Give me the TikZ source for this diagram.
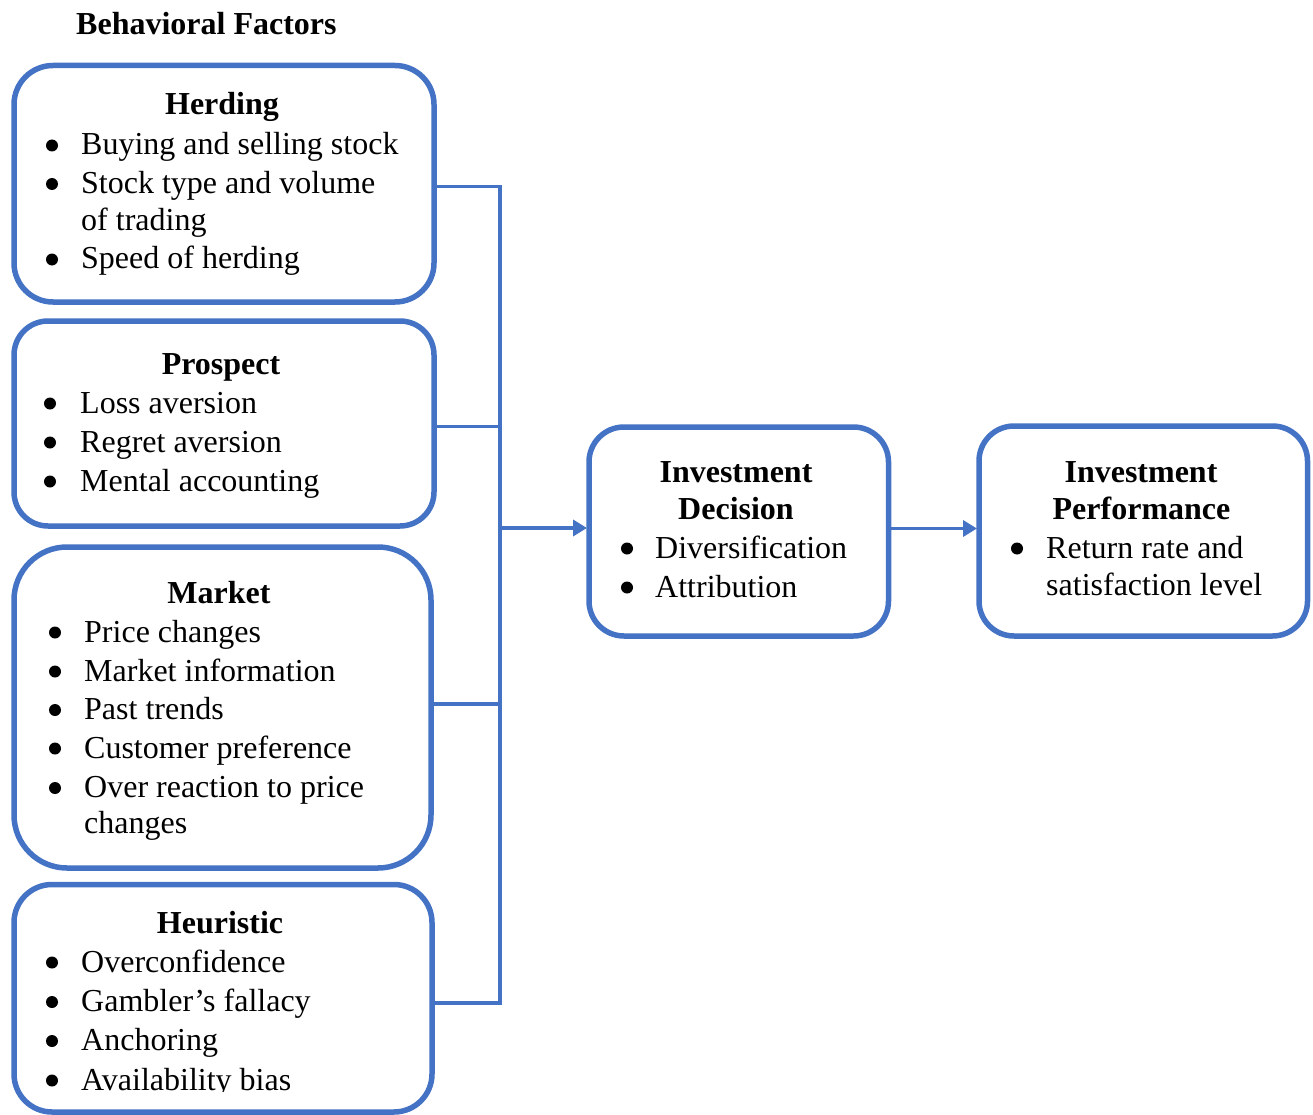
\documentclass[tikz,border=0pt]{standalone}
\usepackage{fontspec}
\setmainfont{Liberation Serif}
\usetikzlibrary{arrows.meta}
\definecolor{wblue}{HTML}{4472C4}
\tikzset{
  fbox/.style={draw=wblue, line width=5.5pt, rectangle, inner sep=0pt, outer sep=0pt},
  conn/.style={draw=wblue, line width=3.5pt},
  arr/.style={conn, -{Triangle[length=14pt,width=16pt]}, shorten >=2pt},
  txt/.style={inner sep=0pt, font=\fontsize{32pt}{38pt}\selectfont},
  head/.style={inner sep=0pt, font=\fontsize{32pt}{38pt}\selectfont\bfseries},
  dot/.style={circle, fill=black, minimum size=12pt, inner sep=0pt},
}
\newcommand{\bitem}[5]{%
  \node[dot] (#1d) at (#2,#4-9.5) {};
  \node[txt, anchor=base west] (#1) at (#3,#4) {#5};}
\begin{document}
\begin{tikzpicture}[x=1pt,y=-1pt]
\useasboundingbox (0,0) rectangle (1313,1115);

% title
\node[head, anchor=base west] (title) at (76,35) {Behavioral Factors};

% boxes
\node[fbox, rounded corners=39pt, minimum width=420pt, minimum height=236.5pt] (herding) at (224,183.75) {};
\node[fbox, rounded corners=34pt, minimum width=420pt, minimum height=205pt] (prospect) at (224,423.5) {};
\node[fbox, rounded corners=53pt, minimum width=417pt, minimum height=321pt] (market) at (222.5,707.5) {};
\node[fbox, rounded corners=38pt, minimum width=418pt, minimum height=227.5pt] (heuristic) at (223,998.25) {};
\node[fbox, rounded corners=35pt, minimum width=299.5pt, minimum height=209pt] (decision) at (738.75,531.5) {};
\node[fbox, rounded corners=35pt, minimum width=328.5pt, minimum height=210pt] (performance) at (1143.25,531) {};

% Herding text
\node[head, anchor=base] (hh) at (222,115) {Herding};
\bitem{h1}{52}{81}{155}{Buying and selling stock}
\bitem{h2}{52}{81}{193.5}{Stock type and volume}
\node[txt, anchor=base west] (h2b) at (81,231) {of trading};
\bitem{h3}{52}{81}{269}{Speed of herding}

% Prospect text
\node[head, anchor=base] (ph) at (221,374) {Prospect};
\bitem{p1}{50}{80}{413}{Loss aversion}
\bitem{p2}{50}{80}{452}{Regret aversion}
\bitem{p3}{50}{80}{491}{Mental accounting}

% Market text
\node[head, anchor=base] (mh) at (219,603) {Market};
\bitem{m1}{55}{84}{642}{Price changes}
\bitem{m2}{55}{84}{681}{Market information}
\bitem{m3}{55}{84}{719.5}{Past trends}
\bitem{m4}{55}{84}{758}{Customer preference}
\bitem{m5}{55}{84}{797.5}{Over reaction to price}
\node[txt, anchor=base west] (m5b) at (84,833.5) {changes};

% Heuristic text
\node[head, anchor=base] (uh) at (220,933) {Heuristic};
\bitem{u1}{52}{81}{972}{Overconfidence}
\bitem{u2}{52}{81}{1011.5}{Gambler’s fallacy}
\bitem{u3}{52}{81}{1050.5}{Anchoring}
\begin{scope}
\clip (0,0) rectangle (1313,1091);
\bitem{u4}{52}{81}{1090}{Availability bias}
\end{scope}

% Decision text
\node[head, anchor=base] (dh1) at (736,482) {Investment};
\node[head, anchor=base] (dh2) at (736,519) {Decision};
\bitem{d1}{627}{655}{558}{Diversification}
\bitem{d2}{627}{655}{597}{Attribution}

% Performance text
\node[head, anchor=base] (ih1) at (1141,482) {Investment};
\node[head, anchor=base] (ih2) at (1141.5,519) {Performance};
\bitem{i1}{1017}{1046}{558}{Return rate and}
\node[txt, anchor=base west] (i1b) at (1046,595.5) {satisfaction level};

% connectors
\coordinate (jH) at (500,186.5);
\coordinate (jP) at (500,426.5);
\coordinate (jM) at (500,704);
\coordinate (jU) at (500,1003);
\coordinate (jA) at (500,528);
\coordinate (jB) at (933,528.5);
\draw[conn] (herding.east |- jH) -- (jH) -- (jU) -- (heuristic.east |- jU);
\draw[conn] (prospect.east |- jP) -- (jP);
\draw[conn] (market.east |- jM) -- (jM);
\draw[arr] (jA) -- (decision.west |- jA);
\draw[arr] (decision.east |- jB) -- (performance.west |- jB);
\end{tikzpicture}
\end{document}
